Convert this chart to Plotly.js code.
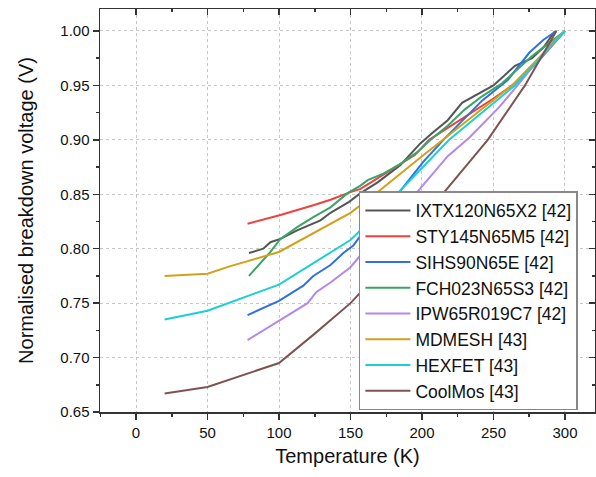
<!DOCTYPE html>
<html>
<head>
<meta charset="utf-8">
<script src="https://cdn.plot.ly/plotly-3.0.1.min.js"></script>
<style>html,body{margin:0;padding:0;background:#fff;}#chart{width:596px;height:477px;}</style>
</head>
<body>
<div id="chart"></div>
<script>
const names = ["IXTX120N65X2 [42]","STY145N65M5 [42]","SIHS90N65E [42]","FCH023N65S3 [42]","IPW65R019C7 [42]","MDMESH [43]","HEXFET [43]","CoolMos [43]"];
const colors = ["#555555","#f0403f","#2f72de","#3aa467","#b487ee","#d4a01a","#1ccfd2","#7d5353"];

const ixtxT = [79, 85, 89, 94, 101, 113, 129, 136, 149, 157, 169, 185, 199, 207, 218, 228, 242, 250, 265, 277, 285, 293];
const ixtxV = [0.796, 0.798, 0.800, 0.806, 0.809, 0.817, 0.826, 0.833, 0.843, 0.851, 0.861, 0.877, 0.897, 0.906, 0.918, 0.934, 0.944, 0.950, 0.968, 0.975, 0.985, 1.0];

const styT = [78, 101, 124, 136, 150, 157, 173, 185, 195, 205, 218, 235, 250, 263, 280, 300];
const styV = [0.823, 0.831, 0.840, 0.845, 0.852, 0.855, 0.868, 0.878, 0.886, 0.900, 0.911, 0.925, 0.938, 0.950, 0.970, 1.0];

const sihsT = [78, 100, 117, 124, 136, 145, 152, 157, 180, 201, 215, 228, 242, 260, 275, 285, 294];
const sihsV = [0.739, 0.752, 0.766, 0.775, 0.785, 0.796, 0.803, 0.812, 0.845, 0.880, 0.900, 0.917, 0.936, 0.955, 0.980, 0.992, 1.0];

const fchT = [79, 94, 101, 113, 124, 136, 148, 157, 162, 173, 185, 197, 206, 218, 230, 242, 256, 265, 277, 290, 300];
const fchV = [0.775, 0.797, 0.809, 0.820, 0.829, 0.838, 0.851, 0.858, 0.863, 0.869, 0.878, 0.889, 0.900, 0.913, 0.928, 0.940, 0.952, 0.963, 0.977, 0.990, 1.0];

const ipwT = [78, 100, 120, 126, 136, 150, 157, 196, 218, 233, 254, 270, 280, 290, 300];
const ipwV = [0.716, 0.734, 0.750, 0.760, 0.769, 0.783, 0.794, 0.851, 0.885, 0.902, 0.930, 0.955, 0.972, 0.988, 1.0];

const mdmeshT = [20, 50, 66, 100, 150, 168, 200, 250, 263, 300];
const mdmeshV = [0.775, 0.777, 0.784, 0.797, 0.833, 0.851, 0.885, 0.937, 0.950, 1.0];

const hexfetT = [20, 50, 100, 150, 157, 183, 219, 265, 300];
const hexfetV = [0.735, 0.743, 0.767, 0.808, 0.817, 0.851, 0.900, 0.950, 1.0];

const coolT = [20, 50, 100, 125, 150, 175, 200, 215, 246, 272, 294];
const coolV = [0.667, 0.673, 0.695, 0.722, 0.750, 0.785, 0.822, 0.851, 0.900, 0.950, 1.0];

const seriesT = [ixtxT, styT, sihsT, fchT, ipwT, mdmeshT, hexfetT, coolT];
const seriesV = [ixtxV, styV, sihsV, fchV, ipwV, mdmeshV, hexfetV, coolV];

const traces = names.map((n, i) => ({
  x: seriesT[i], y: seriesV[i], name: n, type: 'scatter', mode: 'lines',
  line: {color: colors[i], width: 2}
}));
traces.push({x: [], y: [], xaxis: 'x2', yaxis: 'y2', showlegend: false, hoverinfo: 'skip', mode: 'lines'});

const xr = [-25.2, 321];
const yr = [0.65, 1.0202];
const fam = 'Liberation Sans, Arial, sans-serif';

const layout = {
  width: 596, height: 477,
  margin: {l: 100, r: 1, t: 9, b: 65},
  paper_bgcolor: '#fff', plot_bgcolor: '#fff',
  font: {family: fam, size: 15, color: '#111'},
  showlegend: true,
  legend: {x: 0.523, y: 0.548, xanchor: 'left', yanchor: 'top', bgcolor: '#fff', itemwidth: 45,
           bordercolor: '#888', borderwidth: 1.5, font: {family: fam, size: 17.5, color: '#111'}},
  xaxis: {range: xr, tick0: 0, dtick: 50, ticks: 'outside', ticklen: 6, tickwidth: 1.5, tickcolor: '#333',
          minor: {dtick: 25, tick0: 0, ticks: 'outside', ticklen: 3, tickwidth: 1.5, tickcolor: '#333', showgrid: false},
          showline: true, linecolor: '#333', linewidth: 1.5, mirror: true,
          showgrid: true, gridcolor: '#c8c8c8', griddash: '3px,3px', gridwidth: 1, zeroline: false,
          tickfont: {size: 15, color: '#111'},
          title: {text: 'Temperature (K)', font: {size: 20, color: '#111'}, standoff: 9}},
  yaxis: {range: yr, tick0: 0.65, dtick: 0.05, tickformat: '.2f', ticks: 'outside', ticklen: 6, tickwidth: 1.5, tickcolor: '#333',
          minor: {dtick: 0.025, tick0: 0.65, ticks: 'outside', ticklen: 3, tickwidth: 1.5, tickcolor: '#333', showgrid: false},
          showline: true, linecolor: '#333', linewidth: 1.5, mirror: true,
          showgrid: true, gridcolor: '#c8c8c8', griddash: '3px,3px', gridwidth: 1, zeroline: false,
          tickfont: {size: 15, color: '#111'},
          title: {text: 'Normalised breakdown voltage (V)', font: {size: 20, color: '#111'}, standoff: 21}},
  xaxis2: {overlaying: 'x', side: 'top', anchor: 'y', range: xr, tick0: 0, dtick: 50, ticks: 'inside', ticklen: 6, tickwidth: 1.5, tickcolor: '#333',
           minor: {dtick: 25, tick0: 0, ticks: 'inside', ticklen: 3, tickwidth: 1.5, tickcolor: '#333', showgrid: false},
           showticklabels: false, showgrid: false, zeroline: false, showline: false},
  yaxis2: {overlaying: 'y', side: 'right', anchor: 'x', range: yr, tick0: 0.65, dtick: 0.05, ticks: 'inside', ticklen: 6, tickwidth: 1.5, tickcolor: '#333',
           minor: {dtick: 0.025, tick0: 0.65, ticks: 'inside', ticklen: 3, tickwidth: 1.5, tickcolor: '#333', showgrid: false},
           showticklabels: false, showgrid: false, zeroline: false, showline: false}
};

Plotly.newPlot('chart', traces, layout, {displayModeBar: false, staticPlot: true});
</script>
</body>
</html>
